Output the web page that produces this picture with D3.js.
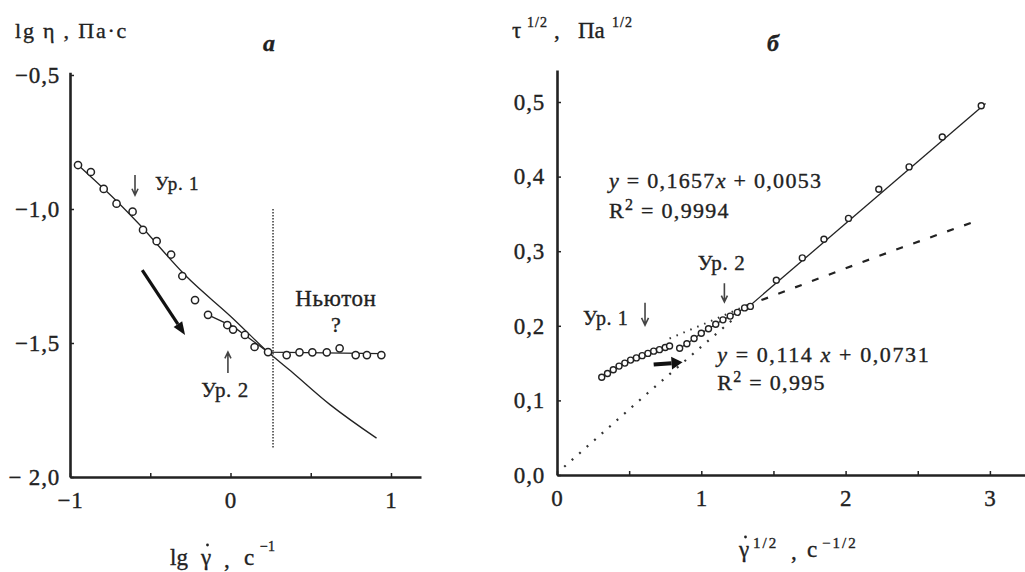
<!DOCTYPE html>
<html>
<head>
<meta charset="utf-8">
<script src="https://cdn.jsdelivr.net/npm/d3@7"></script>
<style>
  body { margin: 0; background: #fff; }
  text { font-family: "Liberation Serif", "Times New Roman", serif; fill: #222; stroke: #222; stroke-width: 0.35px; }
</style>
</head>
<body>
<script>
// --- panel a: lg viscosity vs lg shear rate ---
const aRateUpper = [-0.95, -0.87, -0.79, -0.71, -0.61, -0.545, -0.46, -0.37, -0.30];
const aViscUpper = [-0.836, -0.862, -0.925, -0.98, -1.01, -1.078, -1.12, -1.17, -1.25];
const aRateLower = [-0.221, -0.14, -0.02, 0.016, 0.09, 0.15, 0.234, 0.35, 0.43, 0.51, 0.60, 0.68, 0.78, 0.85, 0.94];
const aViscLower = [-1.34, -1.395, -1.433, -1.45, -1.47, -1.515, -1.534, -1.545, -1.535, -1.535, -1.535, -1.52, -1.545, -1.545, -1.545];
const aRateCurve = [-0.95, -0.71, -0.564, -0.271, 0.0, 0.234, 0.39, 0.62, 0.91];
const aViscCurve = [-0.836, -0.97, -1.06, -1.254, -1.40, -1.534, -1.612, -1.73, -1.855];
const aRateNewton = [-0.14, 0.02, 0.234, 0.94];
const aViscNewton = [-1.395, -1.44, -1.534, -1.54];
const aBoundary = 0.265;
const aBoundaryRange = [-1.0, -1.89];
const aXTicks = [-1, -0.5, 0, 0.5, 1];
const aXLabels = ['−1', '', '0', '', '1'];
const aYTicks = [-2, -1.5, -1, -0.5];
const aYLabels = ['− 2,0', '−1,5', '−1,0', '−0,5'];

// --- panel b: sqrt stress vs sqrt shear rate ---
const bRate1 = [0.31, 0.35, 0.39, 0.43, 0.47, 0.51, 0.55, 0.59, 0.63, 0.67, 0.71, 0.75, 0.78];
const bStress1 = [0.131, 0.136, 0.141, 0.146, 0.150, 0.154, 0.157, 0.160, 0.163, 0.166, 0.168, 0.171, 0.173];
const bRate2 = [0.85, 0.90, 0.95, 1.00, 1.05, 1.10, 1.15, 1.20, 1.25, 1.30];
const bStress2 = [0.170, 0.176, 0.183, 0.190, 0.196, 0.202, 0.208, 0.213, 0.218, 0.224];
const bRate3 = [1.34, 1.52, 1.70, 1.85, 2.02, 2.23, 2.44, 2.67, 2.94];
const bStress3 = [0.226, 0.261, 0.291, 0.316, 0.344, 0.383, 0.413, 0.453, 0.495];
const bFitRate = [1.30, 2.97];
const bFitStress = [0.221, 0.498];
const bOriginRate = [0.05, 0.60, 1.12, 1.30];
const bOriginStress = [0.011, 0.105, 0.192, 0.222];
const bUpperDotRate = [0.78, 1.05, 1.30];
const bUpperDotStress = [0.183, 0.205, 0.226];
const bDashRate = [1.30, 1.63, 2.00, 2.39, 2.90];
const bDashStress = [0.226, 0.250, 0.277, 0.305, 0.340];
const bXTicks = [0, 0.5, 1, 1.5, 2, 2.5, 3];
const bXLabels = ['0', '', '1', '', '2', '', '3'];
const bYTicks = [0, 0.1, 0.2, 0.3, 0.4, 0.5];
const bYLabels = ['0,0', '0,1', '0,2', '0,3', '0,4', '0,5'];

const zip = (xs, ys) => xs.map((x, i) => [x, ys[i]]);

const svg = d3.select('body').append('svg')
    .attr('width', 1025)
    .attr('height', 572);

const ink = '#222';

function drawAxes(x, y, xTicks, xLabels, yTicks, yLabels, yPad) {
    const gx = svg.append('g')
        .attr('transform', `translate(0, ${y.range()[0]})`)
        .call(d3.axisBottom(x).tickValues(xTicks).tickSizeInner(-4).tickSizeOuter(0).tickPadding(15)
            .tickFormat((d, i) => xLabels[i]));
    const gy = svg.append('g')
        .attr('transform', `translate(${x.range()[0]}, 0)`)
        .call(d3.axisLeft(y).tickValues(yTicks).tickSizeInner(-4).tickSizeOuter(0).tickPadding(yPad)
            .tickFormat((d, i) => yLabels[i]));
    [gx, gy].forEach(g => {
        g.select('.domain').attr('stroke', ink).attr('stroke-width', 2.6);
        g.selectAll('.tick line').attr('stroke', ink).attr('stroke-width', 1.5);
        g.selectAll('.tick text')
            .attr('fill', ink)
            .style('font-family', '"Liberation Serif", serif')
            .style('font-size', '23px')
            .style('letter-spacing', '0.8px');
    });
}

function arrow(x1, y1, x2, y2, head) {
    // thin arrow with open V head
    const ang = Math.atan2(y2 - y1, x2 - x1);
    const h = head || 7;
    const a1 = ang + Math.PI - 0.45, a2 = ang + Math.PI + 0.45;
    svg.append('path')
        .attr('d', `M${x1},${y1}L${x2},${y2}M${x2 + h * Math.cos(a1)},${y2 + h * Math.sin(a1)}L${x2},${y2}L${x2 + h * Math.cos(a2)},${y2 + h * Math.sin(a2)}`)
        .attr('fill', 'none')
        .attr('stroke', '#444')
        .attr('stroke-width', 1.6);
}

function thickArrow(x1, y1, x2, y2, w, h) {
    const ang = Math.atan2(y2 - y1, x2 - x1);
    const bx = x2 - h * Math.cos(ang), by = y2 - h * Math.sin(ang);
    svg.append('line')
        .attr('x1', x1).attr('y1', y1).attr('x2', bx).attr('y2', by)
        .attr('stroke', '#111').attr('stroke-width', w);
    const px = Math.cos(ang + Math.PI / 2), py = Math.sin(ang + Math.PI / 2);
    const hw = w * 1.6;
    svg.append('path')
        .attr('d', `M${x2},${y2}L${bx + px * hw},${by + py * hw}L${bx - px * hw},${by - py * hw}Z`)
        .attr('fill', '#111');
}

function label(x, y, str, opts = {}) {
    return svg.append('text')
        .attr('x', x).attr('y', y)
        .attr('text-anchor', opts.anchor || 'start')
        .style('font-size', (opts.size || 20) + 'px')
        .style('font-style', opts.italic ? 'italic' : null)
        .style('font-weight', opts.bold ? 'bold' : null)
        .style('letter-spacing', opts.spacing ? opts.spacing + 'px' : null)
        .text(str);
}

// ================= panel a =================
const xA = d3.scaleLinear().domain([-1, 1.187]).range([70, 421]);
const yA = d3.scaleLinear().domain([-2.0, -0.49]).range([477, 72.3]);
drawAxes(xA, yA, aXTicks, aXLabels, aYTicks, aYLabels, 10);

const lineA = d3.line().x(d => xA(d[0])).y(d => yA(d[1]));

svg.append('path')
    .datum(zip(aRateCurve, aViscCurve))
    .attr('d', lineA.curve(d3.curveCatmullRom))
    .attr('fill', 'none').attr('stroke', ink).attr('stroke-width', 1.3);

svg.append('path')
    .datum(zip(aRateNewton, aViscNewton))
    .attr('d', lineA.curve(d3.curveLinear))
    .attr('fill', 'none').attr('stroke', ink).attr('stroke-width', 1.3);

svg.append('line')
    .attr('x1', xA(aBoundary)).attr('x2', xA(aBoundary))
    .attr('y1', yA(aBoundaryRange[0])).attr('y2', yA(aBoundaryRange[1]))
    .attr('stroke', '#444').attr('stroke-width', 1.6).attr('stroke-dasharray', '1.5,1.5');

svg.append('g').selectAll('circle')
    .data(zip(aRateUpper, aViscUpper).concat(zip(aRateLower, aViscLower)))
    .join('circle')
    .attr('cx', d => xA(d[0])).attr('cy', d => yA(d[1]))
    .attr('r', 3.6)
    .attr('fill', '#fff').attr('stroke', ink).attr('stroke-width', 1.5);

thickArrow(xA(-0.55), yA(-1.228), xA(-0.283), yA(-1.47), 3.2, 13);

arrow(xA(-0.595), yA(-0.873), xA(-0.595), yA(-0.948), 7);
label(xA(-0.47), yA(-0.929), 'Ур. 1', { size: 19, spacing: 0.8 });
arrow(xA(-0.016), yA(-1.612), xA(-0.016), yA(-1.534), 7);
label(xA(-0.034), yA(-1.70), 'Ур. 2', { size: 21, anchor: 'middle', spacing: 0.6 });
label(xA(0.657), yA(-1.362), 'Ньютон', { size: 23, anchor: 'middle', spacing: 0.6 });
label(xA(0.657), yA(-1.459), '?', { size: 22, anchor: 'middle' });

// axis titles a
label(15, 38, 'lg η , Па·с', { size: 22, spacing: 1.8 });
label(269, 51, 'а', { size: 24, italic: true, bold: true, anchor: 'middle' });

label(170, 565, 'lg', { size: 23 });
label(201, 565, 'γ', { size: 23 });
svg.append('circle').attr('cx', 207.5).attr('cy', 545).attr('r', 1.4).attr('fill', ink);
label(224, 567, ',', { size: 23 });
label(244, 565, 'c', { size: 23 });
label(260, 551, '−1', { size: 14 });

// ================= panel b =================
const xB = d3.scaleLinear().domain([0, 3.24]).range([557, 557 + 3.24 * 144.3]);
const yB = d3.scaleLinear().domain([0, 0.543]).range([475, 475 - 0.543 * 746]);
drawAxes(xB, yB, bXTicks, bXLabels, bYTicks, bYLabels, 12);

const lineB = d3.line().x(d => xB(d[0])).y(d => yB(d[1]));

svg.append('path')
    .datum(zip(bOriginRate, bOriginStress))
    .attr('d', lineB)
    .attr('fill', 'none').attr('stroke', '#333').attr('stroke-width', 2.2)
    .attr('stroke-dasharray', '2,8');

svg.append('path')
    .datum(zip(bUpperDotRate, bUpperDotStress))
    .attr('d', lineB)
    .attr('fill', 'none').attr('stroke', '#333').attr('stroke-width', 2)
    .attr('stroke-dasharray', '1.5,6');

svg.append('path')
    .datum(zip(bDashRate, bDashStress))
    .attr('d', lineB)
    .attr('fill', 'none').attr('stroke', '#222').attr('stroke-width', 2.2)
    .attr('stroke-dasharray', '7,11');

svg.append('path')
    .datum(zip(bFitRate, bFitStress))
    .attr('d', lineB)
    .attr('fill', 'none').attr('stroke', ink).attr('stroke-width', 1.3);

svg.append('path')
    .datum(zip(bRate1, bStress1))
    .attr('d', lineB)
    .attr('fill', 'none').attr('stroke', ink).attr('stroke-width', 1.2);
svg.append('path')
    .datum(zip(bRate2, bStress2))
    .attr('d', lineB)
    .attr('fill', 'none').attr('stroke', ink).attr('stroke-width', 1.2);

svg.append('g').selectAll('circle')
    .data(zip(bRate1, bStress1).concat(zip(bRate2, bStress2), zip(bRate3, bStress3)))
    .join('circle')
    .attr('cx', d => xB(d[0])).attr('cy', d => yB(d[1]))
    .attr('r', 3)
    .attr('fill', '#fff').attr('stroke', ink).attr('stroke-width', 1.4);

thickArrow(xB(0.67), yB(0.148), xB(0.87), yB(0.151), 4, 11);

label(xB(0.18), yB(0.201), 'Ур. 1', { size: 20, spacing: 0.6 });
arrow(xB(0.61), yB(0.231), xB(0.61), yB(0.201), 8);
label(xB(1.14), yB(0.275), 'Ур. 2', { size: 21, anchor: 'middle', spacing: 0.6 });
arrow(xB(1.16), yB(0.257), xB(1.16), yB(0.232), 7);

const eq1 = label(xB(0.36), yB(0.385), '', { size: 22, spacing: 1.3 });
eq1.append('tspan').style('font-style', 'italic').text('y');
eq1.append('tspan').text(' = 0,1657');
eq1.append('tspan').style('font-style', 'italic').text('x');
eq1.append('tspan').text(' + 0,0053');
const r1 = label(xB(0.36), yB(0.345), 'R', { size: 22, spacing: 1.3 });
r1.append('tspan').attr('dy', -8).style('font-size', '16px').text('2');
r1.append('tspan').attr('dy', 8).text(' = 0,9994');

const eq2 = label(xB(1.11), yB(0.151), '', { size: 22, spacing: 1.6 });
eq2.append('tspan').style('font-style', 'italic').text('y');
eq2.append('tspan').text(' =  0,114  ');
eq2.append('tspan').style('font-style', 'italic').text('x');
eq2.append('tspan').text('  + 0,0731');
const r2 = label(xB(1.11), yB(0.114), 'R', { size: 22, spacing: 1.3 });
r2.append('tspan').attr('dy', -8).style('font-size', '16px').text('2');
r2.append('tspan').attr('dy', 8).text(' = 0,995');

// axis titles b
label(512, 38, 'τ', { size: 23 });
label(527, 27, '1/2', { size: 14, spacing: 1 });
label(554, 38, ',', { size: 23 });
label(578, 38, 'Па', { size: 23 });
label(612, 27, '1/2', { size: 14, spacing: 1 });
label(773, 51, 'б', { size: 24, italic: true, bold: true, anchor: 'middle' });

label(739, 557, 'γ', { size: 23 });
svg.append('circle').attr('cx', 745.5).attr('cy', 537).attr('r', 1.4).attr('fill', ink);
label(753, 548, '1/2', { size: 15, spacing: 2 });
label(791, 559, ',', { size: 23 });
label(807, 557, 'c', { size: 23 });
label(822, 548, '−1/2', { size: 15, spacing: 2 });
</script>
</body>
</html>
